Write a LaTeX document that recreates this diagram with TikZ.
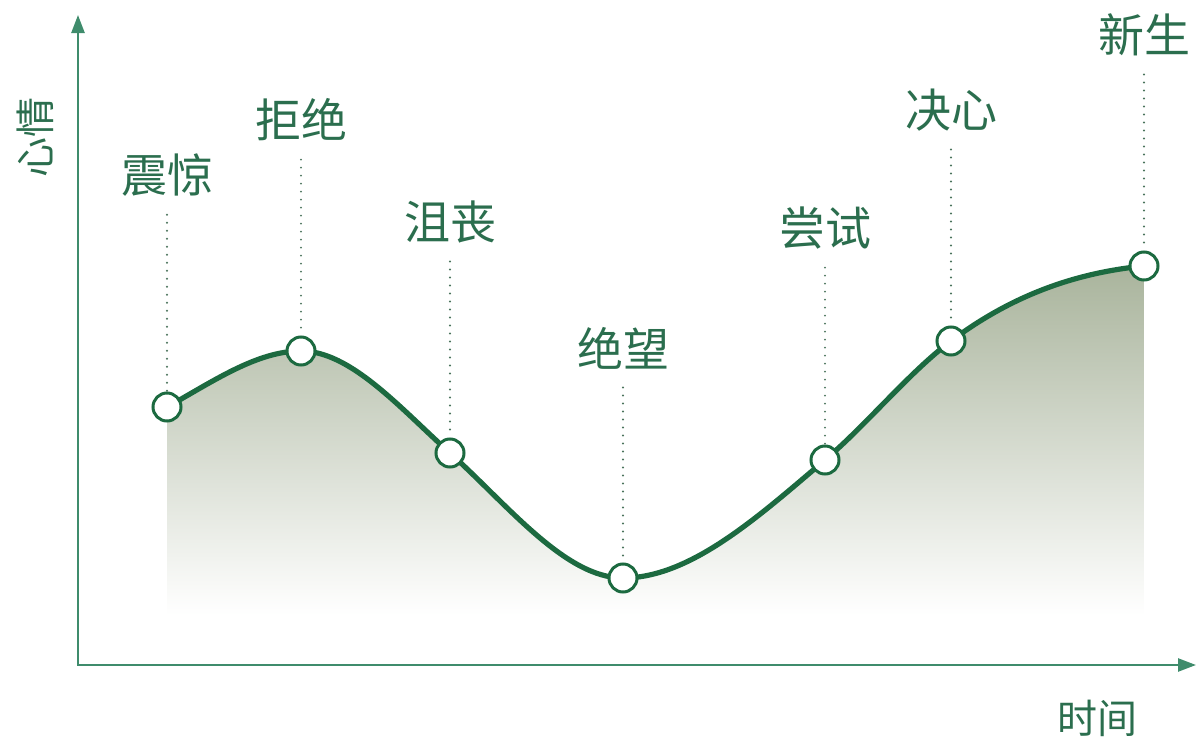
\documentclass[tikz,border=0pt]{standalone}
\usepackage{fontspec}
\newfontfamily\cjk{Noto Sans CJK SC}
\usetikzlibrary{arrows.meta}
\definecolor{curvegreen}{HTML}{1C6A40}
\definecolor{axisgreen}{HTML}{3F8C6C}
\definecolor{textgreen}{HTML}{2B6E4E}
\definecolor{dotgreen}{HTML}{4A735C}
\definecolor{fillgreen}{HTML}{A9B49C}

% the mood curve through the seven stages
\newcommand\moodcurve{(167,407)
    .. controls (211.7,382.4) and (256.3,351) .. (301,351)
    .. controls (350.7,351) and (400.3,408.3) .. (450,453)
    .. controls (507.7,504.9) and (565.3,578) .. (623,578)
    .. controls (690.3,578) and (757.7,517.2) .. (825,460)
    .. controls (867,424.3) and (909,372.5) .. (951,341)
    .. controls (1015.3,292.8) and (1079.7,272.4) .. (1144,266)}

\begin{document}
\begin{tikzpicture}[
    x=0.5pt, y=-0.5pt,
    axis/.style={draw=axisgreen, line width=1.2pt, {Triangle[length=9pt,width=6.5pt]}-{Triangle[length=9pt,width=6.5pt]}},
    mood/.style={draw=curvegreen, line width=2.6pt},
    stage/.style={circle, draw=curvegreen, fill=white, line width=1.5pt, minimum size=14pt, inner sep=0pt},
    stagelabel/.style={font=\cjk\fontsize{23}{27}\selectfont, text=textgreen, inner sep=0pt},
    axislabel/.style={font=\cjk\fontsize{20}{24}\selectfont, text=textgreen, inner sep=0pt},
    guide/.style={draw=dotgreen, line width=1.1pt, line cap=round, dash pattern=on 0pt off 4pt, shorten <=9pt}
]
\useasboundingbox (0,0) rectangle (1201,744);

% Axes
\coordinate (origin) at (78,665);
\coordinate (ytop) at (78,15);
\coordinate (xend) at (1196,665);
\draw[axis] (ytop) -- (origin) -- (xend);
\node[axislabel, rotate=90] (mood) at (35,137) {心情};
\node[axislabel] (time) at (1097,718) {时间};

% Area under the curve
\shade[top color=fillgreen, bottom color=white]
    (167,615) -- \moodcurve -- (1144,615) -- cycle;

% Mood curve
\draw[mood] \moodcurve;

% Stages
\foreach \px/\py/\ly/\name/\txt in {
    167/407/175/shock/震惊,
    301/351/120/denial/拒绝,
    450/453/222/frustration/沮丧,
    623/578/348/despair/绝望,
    825/460/228/attempt/尝试,
    951/341/110/resolve/决心,
    1144/266/35/rebirth/新生}{
    \node[stagelabel] (\name-label) at (\px,\ly) {\txt};
    \node[stage] (\name) at (\px,\py) {};
    \draw[guide] (\name-label) -- (\name);
}

\end{tikzpicture}
\end{document}
